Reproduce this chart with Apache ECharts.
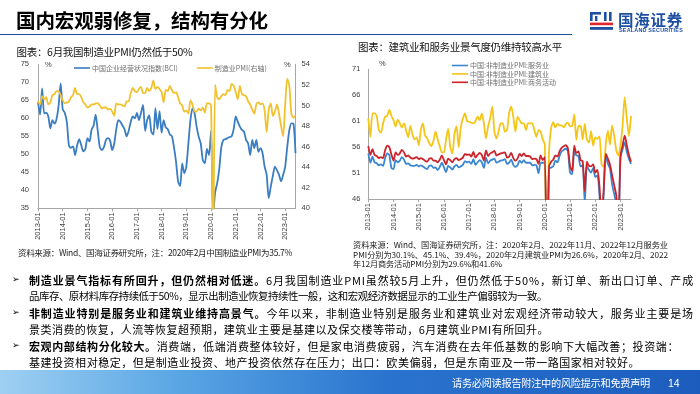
<!DOCTYPE html>
<html><head><meta charset="utf-8">
<script src="https://cdn.jsdelivr.net/npm/echarts@6/dist/echarts.min.js"></script>
<style>
body{margin:0;width:700px;height:394px;overflow:hidden;background:#fff;font-family:"Noto Sans CJK SC","Noto Sans",sans-serif;position:relative;}
#chart{position:absolute;left:0;top:0;width:700px;height:394px;}
.t{position:absolute;white-space:nowrap;display:inline-block;color:#000;}
.fit{display:inline-block;white-space:nowrap;}
</style></head><body>
<div id="chart"></div>

<div class="t" style="left:16px;top:8px;font-size:19.5px;line-height:24px;font-weight:bold;"><span class="fit" data-w="252">国内宏观弱修复，结构有分化</span></div>
<div style="position:absolute;left:0;top:33.6px;width:572px;height:1.6px;background:#1f4e9b;"></div>

<svg style="position:absolute;left:589px;top:11px;" width="26" height="21" viewBox="0 0 26 21">
  <rect x="1" y="1" width="11" height="2.6" fill="#1e50a2"/>
  <rect x="1" y="1" width="2.6" height="9" fill="#1e50a2"/>
  <rect x="6" y="5" width="2.4" height="5" fill="#1e50a2"/>
  <rect x="15" y="1" width="2.6" height="9" fill="#1e50a2"/>
  <rect x="20" y="1" width="2.6" height="9" fill="#1e50a2"/>
  <rect x="1" y="11.6" width="23" height="2.6" fill="#e0262b"/>
  <rect x="1" y="16" width="23" height="2.8" fill="#1e50a2"/>
</svg>
<div class="t" style="left:618px;top:10px;font-size:15.5px;line-height:18px;font-weight:bold;color:#1e50a2;"><span class="fit" data-w="65">国海证券</span></div>
<div class="t" style="left:619px;top:26.5px;font-size:5.4px;line-height:6px;font-weight:bold;color:#1e50a2;font-family:'Liberation Sans',Arial,sans-serif;"><span class="fit" data-w="64">SEALAND SECURITIES</span></div>

<div class="t" style="left:16.5px;top:45px;font-size:10.5px;line-height:13px;color:#111;"><span class="fit" data-w="176">图表：6月我国制造业PMI仍然低于50%</span></div>
<div class="t" style="left:358px;top:39.5px;font-size:10.5px;line-height:13px;color:#111;"><span class="fit" data-w="204">图表：建筑业和服务业景气度仍维持较高水平</span></div>

<div class="t" style="left:45px;top:60px;font-size:7.5px;line-height:9px;color:#404040;font-family:'Liberation Sans',Arial,sans-serif;">%</div>
<div class="t" style="left:284px;top:60px;font-size:7.5px;line-height:9px;color:#404040;font-family:'Liberation Sans',Arial,sans-serif;">%</div>
<div class="t" style="left:379px;top:58.5px;font-size:7.5px;line-height:9px;color:#404040;font-family:'Liberation Sans',Arial,sans-serif;">%</div>

<div class="t" style="left:18px;top:247px;font-size:8.5px;line-height:11px;color:#222;"><span class="fit" data-w="274">资料来源：Wind、国海证券研究所，注：2020年2月中国制造业PMI为35.7%</span></div>
<div class="t" style="left:353px;top:238.5px;font-size:8.2px;line-height:11px;color:#222;"><span class="fit" data-w="315">资料来源：Wind、国海证券研究所，注：2020年2月、2022年11月、2022年12月服务业</span></div>
<div class="t" style="left:353px;top:248.5px;font-size:8.2px;line-height:11px;color:#222;"><span class="fit" data-w="315">PMI分别为30.1%、45.1%、39.4%，2020年2月建筑业PMI为26.6%，2020年2月、2022</span></div>
<div class="t" style="left:353px;top:258px;font-size:8.2px;line-height:11px;color:#222;"><span class="fit" data-w="149">年12月商务活动PMI分别为29.6%和41.6%</span></div>

<div class="t" style="left:12px;top:273px;font-size:9px;line-height:13px;font-family:'DejaVu Sans',sans-serif;">➢</div>
<div class="t" style="left:12px;top:306px;font-size:9px;line-height:13px;font-family:'DejaVu Sans',sans-serif;">➢</div>
<div class="t" style="left:12px;top:339px;font-size:9px;line-height:13px;font-family:'DejaVu Sans',sans-serif;">➢</div>

<div class="t" style="left:29px;top:272.5px;font-size:11px;line-height:14px;"><span class="fit" data-w="665"><b>制造业景气指标有所回升，但仍然相对低迷。</b>6月我国制造业PMI虽然较5月上升，但仍然低于50%，新订单、新出口订单、产成</span></div>
<div class="t" style="left:29px;top:289px;font-size:10.4px;line-height:14px;"><span class="fit" data-w="518">品库存、原材料库存持续低于50%，显示出制造业恢复持续性一般，这和宏观经济数据显示的工业生产偏弱较为一致。</span></div>
<div class="t" style="left:29px;top:305.5px;font-size:11px;line-height:14px;"><span class="fit" data-w="665"><b>非制造业特别是服务业和建筑业维持高景气。</b>今年以来，非制造业特别是服务业和建筑业对宏观经济带动较大，服务业主要是场</span></div>
<div class="t" style="left:29px;top:322px;font-size:11px;line-height:14px;"><span class="fit" data-w="520">景类消费的恢复，人流等恢复超预期，建筑业主要是基建以及保交楼等带动，6月建筑业PMI有所回升。</span></div>
<div class="t" style="left:29px;top:338.5px;font-size:11px;line-height:14px;"><span class="fit" data-w="650"><b>宏观内部结构分化较大。</b>消费端，低端消费整体较好，但是家电消费疲弱，汽车消费在去年低基数的影响下大幅改善；投资端：</span></div>
<div class="t" style="left:29px;top:355px;font-size:11px;line-height:14px;"><span class="fit" data-w="611">基建投资相对稳定，但是制造业投资、地产投资依然存在压力；出口：欧美偏弱，但是东南亚及一带一路国家相对较好。</span></div>

<div style="position:absolute;left:0;top:370px;width:700px;height:24px;background:linear-gradient(90deg,#9fd0f2 0%,#5aa6e4 25%,#2a74cf 55%,#1c5cbd 100%);"></div>
<div class="t" style="left:452px;top:376px;font-size:10.2px;line-height:14px;color:#fff;"><span class="fit" data-w="198">请务必阅读报告附注中的风险提示和免费声明</span></div>
<div class="t" style="left:668px;top:376px;font-size:10.5px;line-height:14px;color:#fff;font-family:'Liberation Sans',Arial,sans-serif;">14</div>

<script>
// ---------- categories ----------
const years = [2013,2014,2015,2016,2017,2018,2019,2020,2021,2022,2023];
const months = [];
years.forEach(function(y){ for (let m = 1; m <= 12; m++) { if (y === 2023 && m > 6) break; months.push(y + '-' + (m < 10 ? '0' + m : '' + m)); } });

// ---------- left chart: BCI (left axis) & manufacturing PMI (right axis) ----------
const bci = [
64.5,61.0,68.3,61.4,61.5,60.5,57.2,59.5,58.5,59.8,63.5,69.7,
62.5,61.5,59.0,52.5,51.8,52.2,49.8,52.5,54.2,52.5,50.8,51.5,
54.5,53.5,56.8,58.0,61.0,56.5,52.0,51.2,52.0,54.0,54.5,53.8,
51.2,53.0,57.0,59.5,59.0,58.0,57.0,55.0,56.5,59.0,60.5,60.0,
61.5,59.5,61.5,63.7,56.5,59.5,60.8,56.3,55.5,62.8,57.0,62.0,
56.0,59.5,57.5,57.0,55.5,55.0,52.0,48.0,42.5,41.2,47.5,44.7,
46.6,53.0,59.5,62.8,61.4,57.7,54.9,53.0,48.4,47.5,51.5,49.8,
56.5,33.0,39.5,42.0,46.0,52.0,54.0,54.2,54.5,54.8,55.0,57.0,
60.5,59.0,57.7,56.8,56.3,54.0,53.0,49.8,54.0,51.7,54.0,50.7,
51.7,50.3,46.6,44.3,37.8,41.0,44.0,46.6,45.6,44.3,42.5,44.3,
46.6,52.1,56.7,58.6,58.5,50.3];
const pmi = [
50.4,50.1,50.9,50.6,50.8,50.1,50.3,51.0,51.1,51.4,51.4,51.0,
50.5,50.2,50.3,50.4,50.8,51.0,51.7,51.1,51.1,50.8,50.3,50.1,
49.8,49.9,50.1,50.1,50.2,50.2,50.0,49.7,49.8,49.8,49.6,49.7,
49.4,49.0,50.2,50.1,50.1,50.0,49.9,50.4,50.4,51.2,51.7,51.4,
51.3,51.6,51.8,51.2,51.2,51.7,51.4,51.7,52.4,51.6,51.8,51.6,
51.3,50.3,51.5,51.4,51.9,51.5,51.2,51.3,50.8,50.2,50.0,49.4,
49.5,49.2,50.5,50.1,49.4,49.4,49.7,49.5,49.8,49.3,50.2,50.2,
50.0,35.7,52.0,50.8,50.6,50.9,51.1,51.0,51.5,51.4,52.1,51.9,
51.3,50.6,51.9,51.1,51.0,50.9,50.4,50.1,49.6,49.2,50.1,50.3,
50.1,50.2,49.5,47.4,49.6,50.2,49.0,49.4,50.1,49.2,48.0,47.0,
50.1,52.6,51.9,49.2,48.8,49.0];
const leftTicks = [35,40,45,50,55,60,65,70,75];
const rightTicks = [40,42,44,46,48,50,52,54];

// ---------- right chart: non-manufacturing PMI ----------
const services = [
54.8,53.0,54.2,53.1,52.9,52.5,52.7,52.4,53.9,54.8,54.5,52.0,
51.8,53.5,53.1,53.4,54.1,53.6,52.8,52.9,52.5,52.4,52.4,52.6,
52.3,52.5,52.3,52.0,51.8,52.4,52.5,52.0,52.1,51.6,52.2,53.0,
52.1,51.2,52.4,52.1,51.7,52.3,52.6,52.1,52.3,52.6,53.3,53.1,
53.2,52.8,53.7,52.6,53.1,53.5,53.1,52.0,54.0,52.9,53.4,53.6,
53.8,53.0,53.2,53.4,53.5,53.7,52.8,53.0,53.6,52.6,52.2,52.5,
53.4,53.0,53.5,53.0,53.0,53.0,52.5,52.6,52.5,51.0,53.0,53.0,
53.1,30.1,51.8,52.1,52.3,53.4,53.1,54.3,55.2,55.5,55.7,55.2,
51.1,50.8,55.2,54.4,54.3,52.3,52.5,45.2,52.4,51.6,51.1,52.0,
50.3,50.5,46.7,40.0,47.1,54.3,52.8,51.9,48.9,47.0,45.1,39.4,
54.0,55.6,56.9,55.1,53.8,52.8];
const construction = [
61.6,58.0,62.5,62.5,62.0,59.3,58.8,60.5,61.9,62.0,63.2,62.0,
61.2,60.0,61.3,60.6,59.8,60.6,59.2,57.9,60.1,58.5,57.5,57.9,
56.4,59.3,60.6,58.3,57.7,56.8,56.2,57.2,59.0,57.5,56.2,55.0,
55.0,57.5,59.5,56.0,54.8,58.5,60.0,56.0,59.8,61.5,62.5,61.0,
60.9,60.7,60.6,61.0,61.9,61.2,62.5,60.6,57.7,60.0,61.6,63.8,
59.0,57.7,59.0,60.6,60.6,59.0,59.3,62.5,63.8,61.9,59.0,61.9,
61.2,60.6,60.6,59.3,60.6,60.6,60.6,59.3,58.0,59.3,59.0,57.5,
56.5,26.6,55.1,59.7,60.8,59.8,60.5,60.2,60.2,59.8,60.5,60.7,
60.0,60.1,62.3,57.4,60.1,60.1,57.5,60.5,57.5,56.9,59.1,56.3,
57.9,57.6,58.1,52.7,52.2,56.6,59.2,56.5,60.2,58.2,55.4,54.4,
56.4,60.2,65.6,61.5,58.2,62.0];
const activity = [
56.2,54.5,55.6,54.5,54.3,53.9,54.1,53.9,55.4,56.3,56.0,54.6,
53.4,55.0,54.5,54.8,55.5,55.0,54.2,54.4,54.0,53.8,53.9,54.1,
53.7,53.9,53.7,53.4,53.2,53.8,53.9,53.4,53.4,53.1,53.6,54.4,
53.5,52.7,53.8,53.5,53.1,53.7,53.9,53.5,53.7,54.0,54.7,54.5,
54.6,54.2,55.1,54.0,54.5,54.9,54.5,53.4,55.4,54.3,54.8,55.0,
55.3,54.4,54.6,54.8,54.9,55.0,54.0,54.2,54.9,53.9,53.4,53.8,
54.7,54.3,54.8,54.3,54.3,54.2,53.7,53.8,53.7,52.8,54.4,53.5,
54.1,29.6,52.3,53.2,53.6,54.4,54.2,55.2,55.9,56.2,56.4,55.7,
52.4,51.4,56.3,54.9,55.2,53.5,53.3,47.5,53.2,52.4,52.3,52.7,
51.1,51.6,48.4,41.9,47.8,54.7,53.8,52.6,50.6,48.7,46.7,41.6,
54.4,56.3,58.2,56.4,54.5,53.2];
const rightChartTicks = [46,51,56,61,66,71];

const C_BCI = '#3a7dc0', C_PMI = '#f2c12e';
const C_SRV = '#3b86d0', C_CON = '#f5c518', C_ACT = '#cc2229';
const axisGray = '#a6a6a6', labelColor = '#404040', latin = "'Liberation Sans', Arial, sans-serif";

function xAx(grid, margin){
  return {type:'category', gridIndex:grid, data:months, boundaryGap:false,
    axisLine:{lineStyle:{color:axisGray, width:1}},
    axisTick:{show:true, interval:11, length:3, lineStyle:{color:axisGray}},
    axisLabel:{interval:11, rotate:90, fontSize:7.5, color:labelColor, margin:margin, fontFamily:latin},
    splitLine:{show:false}};
}
function line(name, xi, yi, data, color, z){
  return {name:name, type:'line', xAxisIndex:xi, yAxisIndex:yi, data:data, showSymbol:false, symbol:'none',
    smooth:0.25, lineStyle:{width:1.8, color:color}, itemStyle:{color:color}, z:z, clip:true};
}

const chart = echarts.init(document.getElementById('chart'), null, {renderer:'canvas'});
chart.setOption({
  animation:false,
  backgroundColor:'transparent',
  textStyle:{fontFamily:"'Noto Sans CJK SC', sans-serif"},
  grid:[{left:38, top:64.3, width:257.5, height:144},
        {left:368.3, top:69.3, width:262.7, height:129.8}],
  legend:[
    {data:['中国企业经营状况指数(BCI)','制造业PMI(右轴)'], left:69, top:59.5, icon:'rect', itemWidth:16, itemHeight:1.6, itemGap:19,
     textStyle:{fontSize:7, color:'#6f6f6f', padding:[0,0,0,-3]}},
    {data:['中国:非制造业PMI:服务业','中国:非制造业PMI:建筑业','中国:非制造业PMI:商务活动'], orient:'vertical', left:447, top:56.5,
     icon:'rect', itemWidth:16, itemHeight:1.6, itemGap:0.4, textStyle:{fontSize:7, lineHeight:8, color:'#6f6f6f', padding:[0,0,0,-3]}}
  ],
  xAxis:[xAx(0,4), xAx(1,4)],
  yAxis:[
    {type:'value', gridIndex:0, min:leftTicks[0], max:leftTicks[leftTicks.length-1], interval:5,
     axisLine:{show:true, lineStyle:{color:axisGray}}, axisTick:{show:false}, splitLine:{show:false},
     axisLabel:{fontSize:7.5, color:labelColor, margin:9, fontFamily:latin, customValues:leftTicks}},
    {type:'value', gridIndex:0, position:'right', min:rightTicks[0], max:rightTicks[rightTicks.length-1], interval:2,
     axisLine:{show:true, lineStyle:{color:axisGray}}, axisTick:{show:false}, splitLine:{show:false},
     axisLabel:{fontSize:7.5, color:labelColor, margin:6, fontFamily:latin, customValues:rightTicks}},
    {type:'value', gridIndex:1, min:rightChartTicks[0], max:rightChartTicks[rightChartTicks.length-1],
     axisLine:{show:true, lineStyle:{color:axisGray}}, axisTick:{show:false}, splitLine:{show:false},
     axisLabel:{fontSize:7.5, color:labelColor, margin:8, fontFamily:latin, customValues:rightChartTicks}}
  ],
  series:[
    line('中国企业经营状况指数(BCI)',0,0,bci,C_BCI,2),
    line('制造业PMI(右轴)',0,1,pmi,C_PMI,3),
    line('中国:非制造业PMI:服务业',1,2,services,C_SRV,2),
    line('中国:非制造业PMI:建筑业',1,2,construction,C_CON,3),
    line('中国:非制造业PMI:商务活动',1,2,activity,C_ACT,4)
  ]
});

function fitAll(){
  document.querySelectorAll('.fit').forEach(function(el){
    el.style.letterSpacing = '0px';
    const w = parseFloat(el.getAttribute('data-w'));
    const nat = el.getBoundingClientRect().width;
    const n = Array.from(el.textContent).length;
    el.style.letterSpacing = ((w - nat) / n) + 'px';
  });
}
fitAll();
if (document.fonts && document.fonts.ready) document.fonts.ready.then(fitAll);
</script>
</body></html>
